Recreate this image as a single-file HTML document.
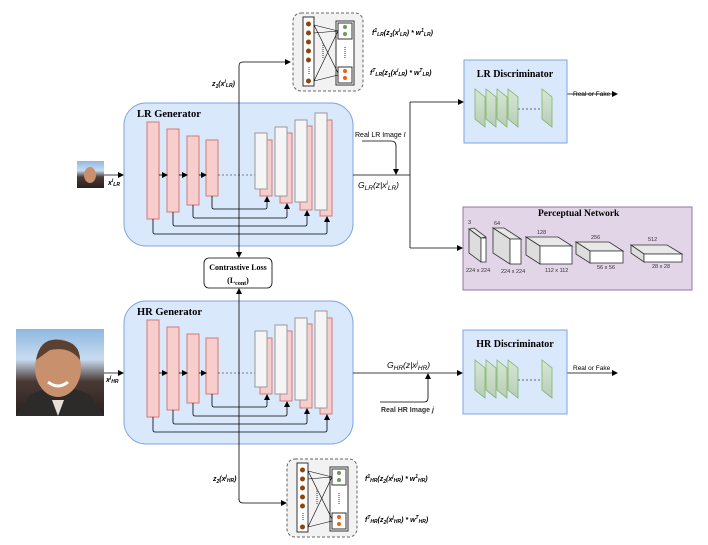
<!DOCTYPE html>
<html><head><meta charset="utf-8"><style>
html,body{margin:0;padding:0;background:#fff}
svg{display:block}
text{font-family:"Liberation Sans",sans-serif}
.s{font-family:"Liberation Serif",serif;font-weight:bold}
</style></head><body>
<svg width="708" height="545" viewBox="0 0 708 545" xmlns="http://www.w3.org/2000/svg">
<defs>
<marker id="a" markerWidth="6" markerHeight="6" refX="5" refY="3" orient="auto" markerUnits="userSpaceOnUse"><path d="M0,0 L6,3 L0,6 z" fill="#000"/></marker>
<linearGradient id="g" x1="0" y1="0" x2="0" y2="1"><stop offset="0" stop-color="#d5e8d4"/><stop offset="1" stop-color="#b8cdb7"/></linearGradient>
<linearGradient id="sky" x1="0" y1="0" x2="0" y2="1"><stop offset="0" stop-color="#8fb8e0"/><stop offset="0.35" stop-color="#c8dcf0"/><stop offset="0.6" stop-color="#4a3a35"/><stop offset="1" stop-color="#2a2020"/></linearGradient>
<g id="gen">
<rect x="124" y="103" width="229" height="143" rx="22" fill="#dae8fc" stroke="#7ea6e0"/>
<rect x="147" y="122" width="12" height="97" fill="#f8cecc" stroke="#d07a78"/>
<rect x="167" y="129" width="12" height="83" fill="#f8cecc" stroke="#d07a78"/>
<rect x="187" y="136" width="12" height="69" fill="#f8cecc" stroke="#d07a78"/>
<rect x="206" y="140" width="12" height="56" fill="#f8cecc" stroke="#d07a78"/>
<g stroke="#000" stroke-width="0.8" fill="none">
<line x1="159" y1="175" x2="167" y2="175" marker-end="url(#a)"/>
<line x1="179" y1="175" x2="187" y2="175" marker-end="url(#a)"/>
<line x1="199" y1="175" x2="206" y2="175" marker-end="url(#a)"/>
<line x1="218" y1="175" x2="255" y2="175" stroke-dasharray="2,2" stroke="#555"/>
</g>
<rect x="260" y="140" width="12" height="56" fill="#f8cecc" stroke="#d07a78"/>
<rect x="255" y="133" width="12" height="56" fill="#f5f5f5" stroke="#999"/>
<rect x="280" y="133" width="12" height="70" fill="#f8cecc" stroke="#d07a78"/>
<rect x="275" y="127" width="12" height="69" fill="#f5f5f5" stroke="#999"/>
<rect x="300" y="126" width="12" height="84" fill="#f8cecc" stroke="#d07a78"/>
<rect x="295" y="120" width="12" height="82" fill="#f5f5f5" stroke="#999"/>
<rect x="320" y="120" width="12" height="96" fill="#f8cecc" stroke="#d07a78"/>
<rect x="315" y="113" width="12" height="97" fill="#f5f5f5" stroke="#999"/>
<g stroke="#000" stroke-width="0.8" fill="none">
<path d="M212,196 V207 Q212,209 214,209 H265 Q267,209 267,207 V197" marker-end="url(#a)"/>
<path d="M193,205 V216 Q193,218 195,218 H285 Q287,218 287,216 V204" marker-end="url(#a)"/>
<path d="M173,212 V224 Q173,226 175,226 H305 Q307,226 307,224 V211" marker-end="url(#a)"/>
<path d="M153,219 V232 Q153,234 155,234 H325 Q327,234 327,232 V217" marker-end="url(#a)"/>
</g>
</g>
<g id="mlp">
<rect x="0" y="0" width="70" height="78" rx="8" fill="#f2f2f2" stroke="#666" stroke-dasharray="3,2"/>
<rect x="10" y="4" width="11" height="69" fill="#fff" stroke="#333"/>
<g fill="#8b4513"><circle cx="15.5" cy="11" r="2.5"/><circle cx="15.5" cy="20" r="2.5"/><circle cx="15.5" cy="29" r="2.5"/><circle cx="15.5" cy="38" r="2.5"/><circle cx="15.5" cy="47" r="2.5"/><circle cx="15.5" cy="68" r="2.5"/></g>
<rect x="43" y="8" width="18" height="64" fill="#fff" stroke="#333"/>
<rect x="45" y="10" width="14" height="16" fill="#fff" stroke="#333"/>
<rect x="45" y="54" width="14" height="16" fill="#fff" stroke="#333"/>
<circle cx="52" cy="14" r="2" fill="#6a9a5a"/><circle cx="52" cy="21" r="2" fill="#6a9a5a"/>
<circle cx="52" cy="58" r="2" fill="#f06010"/><circle cx="52" cy="65" r="2" fill="#f06010"/>
<g stroke="#000" stroke-width="0.6"><line x1="21" y1="12" x2="45" y2="18"/><line x1="21" y1="12" x2="45" y2="60"/><line x1="21" y1="68" x2="45" y2="18"/><line x1="21" y1="68" x2="45" y2="62"/><line x1="21" y1="20" x2="45" y2="18"/></g>
<line x1="16" y1="54" x2="16" y2="62" stroke="#333" stroke-dasharray="1,1"/>
<line x1="52" y1="34" x2="52" y2="46" stroke="#333" stroke-dasharray="1,1"/>
<line x1="30" y1="30" x2="30" y2="45" stroke="#333" stroke-dasharray="1,1"/>
</g>
<g id="disc">
<g fill="url(#g)" stroke="#82b366" stroke-width="0.8">
<path d="M0,0 L10,8 V38 L0,30 z"/><path d="M11,0 L21,8 V38 L11,30 z"/><path d="M22,0 L32,8 V38 L22,30 z"/><path d="M33,0 L43,8 V38 L33,30 z"/><path d="M67,0 L77,8 V38 L67,30 z"/>
</g>
<line x1="43" y1="20" x2="67" y2="20" stroke="#666" stroke-dasharray="2,2"/>
</g>
</defs>

<use href="#gen"/>
<use href="#gen" transform="translate(0,198)"/>
<text x="137" y="117" class="s" font-size="10.5">LR Generator</text>
<text x="137" y="315" class="s" font-size="10.5">HR Generator</text>

<rect x="77" y="161" width="27" height="27" fill="url(#sky)"/>
<ellipse cx="90" cy="175" rx="6" ry="8" fill="#c98f6e"/>
<rect x="16" y="329" width="88" height="87" fill="url(#sky)"/>
<path d="M16,416 L30,395 Q60,380 90,395 L104,416 z" fill="#2d2a2a"/>
<ellipse cx="58" cy="368" rx="23" ry="29" fill="#c8906d"/>
<path d="M36,360 Q40,337 60,340 Q80,342 80,360 Q70,346 50,350 z" fill="#5a4030"/>
<path d="M48,382 Q58,390 68,382" stroke="#fff" stroke-width="3" fill="none"/>
<path d="M52,400 L58,416 L64,400 z" fill="#e8e0d8"/>

<g stroke="#000" stroke-width="0.8" fill="none">
<line x1="104" y1="175" x2="123" y2="175" marker-end="url(#a)"/>
<line x1="104" y1="373" x2="123" y2="373" marker-end="url(#a)"/>
<line x1="239" y1="66" x2="239" y2="257" marker-end="url(#a)"/>
<path d="M239,66 Q239,62 243,62 H290" marker-end="url(#a)"/>
<line x1="239" y1="500" x2="239" y2="289" marker-end="url(#a)"/>
<path d="M239,499 Q239,503 243,503 H286" marker-end="url(#a)"/>
<line x1="353" y1="175" x2="410" y2="175"/>
<line x1="410" y1="102" x2="410" y2="248"/>
<line x1="410" y1="102" x2="463" y2="102" marker-end="url(#a)"/>
<line x1="410" y1="248" x2="462" y2="248" marker-end="url(#a)"/>
<path d="M362,141 H391 Q396,141 396,146 V174" marker-end="url(#a)"/>
<line x1="353" y1="373" x2="462" y2="373" marker-end="url(#a)"/>
<path d="M380,402 H424 Q428,402 428,398 V374" marker-end="url(#a)"/>
<line x1="567" y1="94" x2="617" y2="94" marker-end="url(#a)"/>
<line x1="567" y1="373" x2="617" y2="373" marker-end="url(#a)"/>
</g>

<rect x="204" y="258" width="68" height="30" rx="5" fill="#fff" stroke="#000" stroke-width="0.8"/>
<text x="238" y="270" class="s" font-size="8" text-anchor="middle">Contrastive Loss</text>
<text x="238" y="283" class="s" font-size="8" text-anchor="middle">(L<tspan font-size="6" dy="2">cont</tspan><tspan dy="-2">)</tspan></text>

<use href="#mlp" transform="translate(293,13)"/>
<use href="#mlp" transform="translate(287,459)"/>

<rect x="464" y="60" width="103" height="83" fill="#dae8fc" stroke="#7ea6e0"/>
<text x="515" y="77" class="s" font-size="10" text-anchor="middle">LR Discriminator</text>
<use href="#disc" transform="translate(475,89)"/>
<rect x="463" y="330" width="104" height="84" fill="#dae8fc" stroke="#7ea6e0"/>
<text x="515" y="347" class="s" font-size="10" text-anchor="middle">HR Discriminator</text>
<use href="#disc" transform="translate(475,360)"/>
<text x="573" y="96" font-size="6.5">Real or Fake</text>
<text x="573" y="370" font-size="6.5">Real or Fake</text>

<rect x="463" y="207" width="229" height="83" fill="#e1d5e7" stroke="#9673a6"/>
<text x="538" y="216" class="s" font-size="9.5">Perceptual Network</text>
<g stroke="#333" stroke-width="0.8">
<path d="M469,229 L474,228 L486,237 L481,238 z" fill="#e8e8e8"/>
<path d="M469,229 L481,238 V262 L469,253 z" fill="#ddd"/>
<rect x="481" y="238" width="5" height="24" fill="#fff"/>
<path d="M493,228 L504,228 L521,239 L510,239 z" fill="#e8e8e8"/>
<path d="M493,228 L510,239 V264 L493,253 z" fill="#ddd"/>
<rect x="510" y="239" width="11" height="25" fill="#fff"/>
<path d="M526,237 L558,237 L572,246 L540,246 z" fill="#e8e8e8"/>
<path d="M526,237 L540,246 V264 L526,255 z" fill="#ddd"/>
<rect x="540" y="246" width="32" height="18" fill="#fff"/>
<path d="M576,242 L609,242 L623,251 L590,251 z" fill="#e8e8e8"/>
<path d="M576,242 L590,251 V263 L576,254 z" fill="#ddd"/>
<rect x="590" y="251" width="33" height="12" fill="#fff"/>
<path d="M631,245 L667,245 L682,254 L644,254 z" fill="#e8e8e8"/>
<path d="M631,245 L644,254 V262 L631,253 z" fill="#ddd"/>
<rect x="644" y="254" width="38" height="8" fill="#fff"/>
</g>
<g font-size="5.5" fill="#333">
<text x="468" y="224">3</text><text x="494" y="225">64</text><text x="537" y="234">128</text>
<text x="591" y="239">256</text><text x="648" y="241">512</text>
<text x="466" y="272">224 x 224</text><text x="501" y="273">224 x 224</text><text x="545" y="272">112 x 112</text>
<text x="597" y="269">56 x 56</text><text x="652" y="268">28 x 28</text>
</g>

<g font-size="7" font-style="italic" font-weight="bold">
<text x="108" y="185">x<tspan font-size="5" dy="-3">i</tspan><tspan font-size="5" dy="4">LR</tspan></text>
<text x="106" y="382">x<tspan font-size="5" dy="-3">j</tspan><tspan font-size="5" dy="4">HR</tspan></text>
<text x="212" y="86">z<tspan font-size="5" dy="2">1</tspan><tspan dy="-2">(x</tspan><tspan font-size="5" dy="-3">i</tspan><tspan font-size="5" dy="4">LR</tspan><tspan dy="-1">)</tspan></text>
<text x="213" y="481">z<tspan font-size="5" dy="2">2</tspan><tspan dy="-2">(x</tspan><tspan font-size="5" dy="-3">j</tspan><tspan font-size="5" dy="4">HR</tspan><tspan dy="-1">)</tspan></text>
<text x="372" y="35">f<tspan font-size="5" dy="-3">1</tspan><tspan font-size="5" dy="4">LR</tspan><tspan dy="-1">(z</tspan><tspan font-size="5" dy="2">1</tspan><tspan dy="-2">(x</tspan><tspan font-size="5" dy="-3">i</tspan><tspan font-size="5" dy="4">LR</tspan><tspan dy="-1">) * w</tspan><tspan font-size="5" dy="-3">1</tspan><tspan font-size="5" dy="4">LR</tspan><tspan dy="-1">)</tspan></text>
<text x="370" y="75">f<tspan font-size="5" dy="-3">T</tspan><tspan font-size="5" dy="4">LR</tspan><tspan dy="-1">(z</tspan><tspan font-size="5" dy="2">1</tspan><tspan dy="-2">(x</tspan><tspan font-size="5" dy="-3">i</tspan><tspan font-size="5" dy="4">LR</tspan><tspan dy="-1">) * w</tspan><tspan font-size="5" dy="-3">T</tspan><tspan font-size="5" dy="4">LR</tspan><tspan dy="-1">)</tspan></text>
<text x="365" y="481">f<tspan font-size="5" dy="-3">1</tspan><tspan font-size="5" dy="4">HR</tspan><tspan dy="-1">(z</tspan><tspan font-size="5" dy="2">2</tspan><tspan dy="-2">(x</tspan><tspan font-size="5" dy="-3">j</tspan><tspan font-size="5" dy="4">HR</tspan><tspan dy="-1">) * w</tspan><tspan font-size="5" dy="-3">1</tspan><tspan font-size="5" dy="4">HR</tspan><tspan dy="-1">)</tspan></text>
<text x="365" y="522">f<tspan font-size="5" dy="-3">T</tspan><tspan font-size="5" dy="4">HR</tspan><tspan dy="-1">(z</tspan><tspan font-size="5" dy="2">2</tspan><tspan dy="-2">(x</tspan><tspan font-size="5" dy="-3">j</tspan><tspan font-size="5" dy="4">HR</tspan><tspan dy="-1">) * w</tspan><tspan font-size="5" dy="-3">T</tspan><tspan font-size="5" dy="4">HR</tspan><tspan dy="-1">)</tspan></text>
</g>
<g font-family="Liberation Serif,serif" font-style="italic" font-size="8.5">
<text x="358" y="188">G<tspan font-size="6.5" dy="2">LR</tspan><tspan dy="-2">(z|x</tspan><tspan font-size="6" dy="-3">i</tspan><tspan font-size="6.5" dy="5">LR</tspan><tspan dy="-2">)</tspan></text>
<text x="387" y="368">G<tspan font-size="6.5" dy="2">HR</tspan><tspan dy="-2">(z|x</tspan><tspan font-size="6" dy="-3">j</tspan><tspan font-size="6.5" dy="5">HR</tspan><tspan dy="-2">)</tspan></text>
</g>
<text x="355" y="137" font-size="7">Real LR Image <tspan font-style="italic">I</tspan></text>
<text x="381" y="412" font-size="7" font-weight="bold" fill="#333">Real HR Image <tspan font-style="italic">j</tspan></text>
</svg>
</body></html>
